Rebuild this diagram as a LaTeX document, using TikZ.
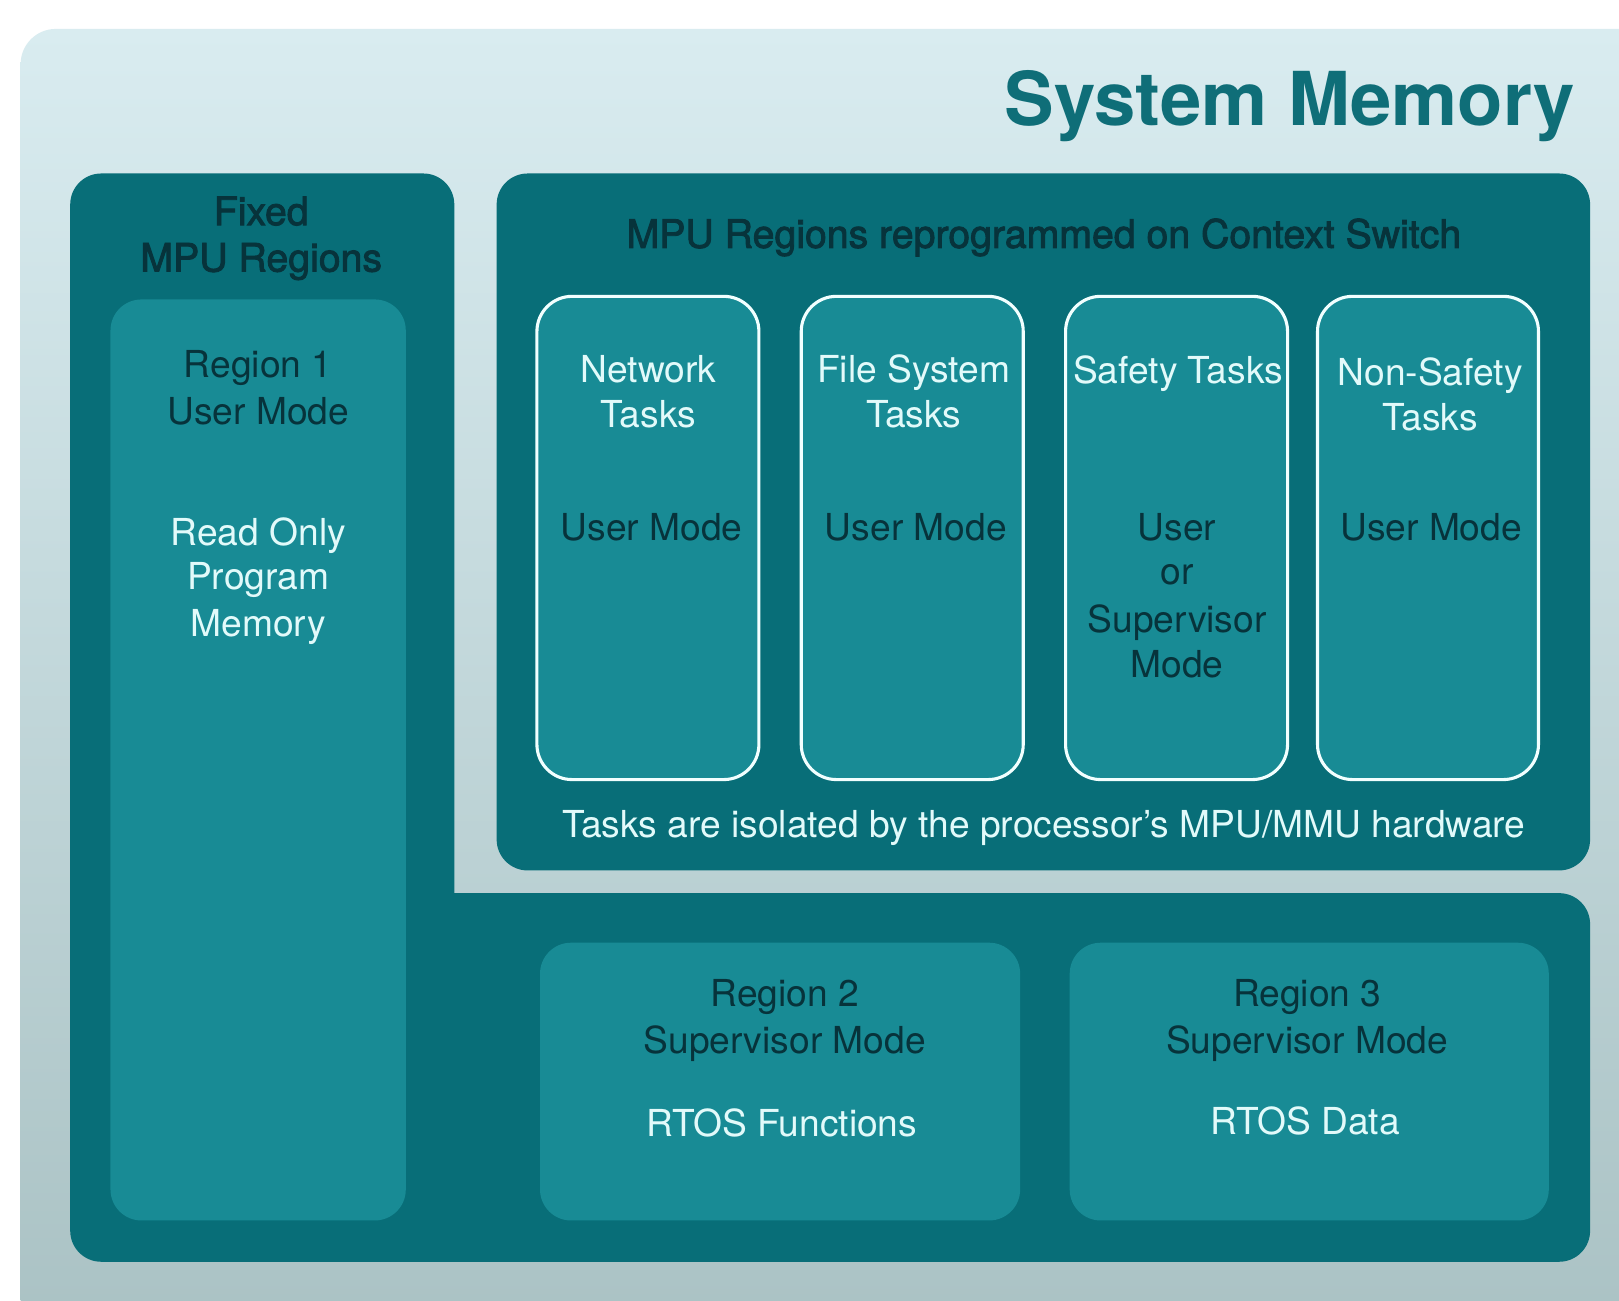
\documentclass[tikz,border=0pt]{standalone}
\usepackage{fontspec}
\setmainfont{TeX Gyre Heros}
\newfontfamily\headfont[FakeBold=2.2]{TeX Gyre Heros}
\definecolor{panelTop}{HTML}{D9ECF0}
\definecolor{panelBot}{HTML}{A9C1C3}
\definecolor{darkTeal}{HTML}{086E78}
\definecolor{midTeal}{HTML}{188B95}
\definecolor{darkText}{HTML}{07333B}
\definecolor{lightText}{HTML}{E2FAFA}
\definecolor{titleCol}{HTML}{0F6E78}
\definecolor{outlineCol}{HTML}{F2FFFF}
\begin{document}
\begin{tikzpicture}[x=0.5pt,y=-0.5pt,
  container/.style={fill=darkTeal},
  innerbox/.style={fill=midTeal, rounded corners=15pt},
  taskbox/.style={fill=midTeal, draw=outlineCol, line width=1.5pt, rounded corners=17pt},
  dtxt/.style={text=darkText, font=\fontsize{18}{22}\selectfont, inner sep=0pt, anchor=base},
  ltxt/.style={text=lightText, font=\fontsize{18}{22}\selectfont, inner sep=0pt, anchor=base},
  htxt/.style={text=darkText, font=\headfont\fontsize{19}{22}\selectfont, inner sep=0pt, anchor=base},
  ]
\useasboundingbox (0,0) rectangle (1568,1260);
\fill[white] (0,0) rectangle (1568,1260);
\begin{scope}
  \clip (0,0) rectangle (1568,1260);
  \shade[top color=panelTop, bottom color=panelBot, rounded corners=17pt] (20,28) rectangle (1620,1320);
\end{scope}

% title
\node[anchor=base east, text=titleCol, font=\fontsize{36}{40}\selectfont\bfseries, inner sep=0pt] (title) at (1526,122) {System Memory};

% L-shaped fixed container + MPU container
\fill[container, rounded corners=15pt] (68,168) rectangle (440,1222) (68,865) rectangle (1540,1222);
\fill[container, rounded corners=15pt] (481,168) rectangle (1540,843);

% left column
\node[htxt] (fx1) at (253,218) {Fixed};
\node[htxt] (fx2) at (253,263) {MPU Regions};
\fill[innerbox] (107,290) rectangle (393,1182);
\node[dtxt] (r1a) at (250,366) {Region 1};
\node[dtxt] (r1b) at (250,411) {User Mode};
\node[ltxt] (r1c) at (250,528) {Read Only};
\node[ltxt] (r1d) at (250,571) {Program};
\node[ltxt] (r1e) at (250,616) {Memory};

% MPU regions
\node[htxt] (mpuh) at (1011,240) {MPU Regions reprogrammed on Context Switch};
\draw[taskbox] (520,287) rectangle (735,755);
\draw[taskbox] (776,287) rectangle (991,755);
\draw[taskbox] (1032,287) rectangle (1247,755);
\draw[taskbox] (1276,287) rectangle (1490,755);

\node[ltxt] (n1) at (628,370) {Network};
\node[ltxt] (n2) at (628,414) {Tasks};
\node[dtxt] (n3) at (631,523) {User Mode};

\node[ltxt] (f1) at (885,370) {File System};
\node[ltxt] (f2) at (885,414) {Tasks};
\node[dtxt] (f3) at (887,523) {User Mode};

\node[ltxt] (s1) at (1141,371) {Safety Tasks};
\node[dtxt] (s2) at (1140,523) {User};
\node[dtxt] (s3) at (1140,566) {or};
\node[dtxt] (s4) at (1140,613) {Supervisor};
\node[dtxt] (s5) at (1140,656) {Mode};

\node[ltxt] (ns1) at (1385,373) {Non-Safety};
\node[ltxt] (ns2) at (1385,417) {Tasks};
\node[dtxt] (ns3) at (1386,523) {User Mode};

\node[ltxt] (iso) at (1011,811) {Tasks are isolated by the processor’s MPU/MMU hardware};

% bottom regions
\fill[innerbox] (523,913) rectangle (988,1182);
\fill[innerbox] (1036,913) rectangle (1500,1182);
\node[dtxt] (r2a) at (760,975) {Region 2};
\node[dtxt] (r2b) at (760,1020) {Supervisor Mode};
\node[ltxt] (r2c) at (757,1101) {RTOS Functions};
\node[dtxt] (r3a) at (1266,975) {Region 3};
\node[dtxt] (r3b) at (1266,1020) {Supervisor Mode};
\node[ltxt] (r3c) at (1264,1099) {RTOS Data};
\end{tikzpicture}
\end{document}
